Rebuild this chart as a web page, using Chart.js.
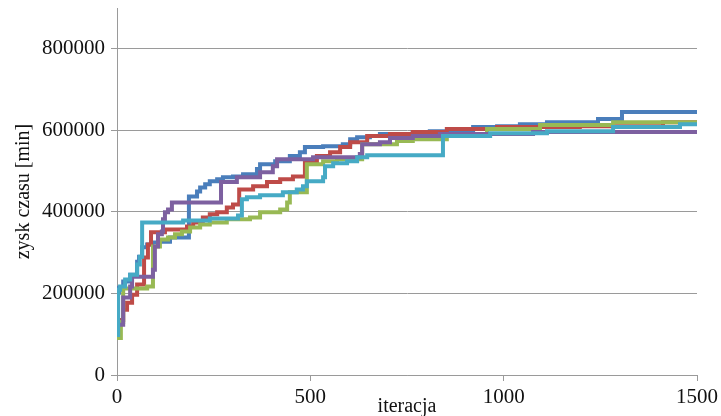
<!DOCTYPE html>
<html>
<head>
<meta charset="utf-8">
<script src="https://cdn.jsdelivr.net/npm/chart.js@4"></script>
<style>
  body { margin: 0; background: #fff; }
  canvas { display: block; }
</style>
</head>
<body>
<canvas id="chart" width="721" height="416"></canvas>
<script>
const xTicks = [0, 500, 1000, 1500];
const yTicks = [0, 200000, 400000, 600000, 800000];

const blueIter = [0, 5, 16, 34, 52, 57, 65, 78, 91, 106, 137, 186, 207, 215, 228, 240, 259, 274, 300, 326, 362, 370, 409, 447, 473, 486, 533, 584, 603, 621, 654, 680, 765, 809, 921, 983, 1042, 1112, 1244, 1306, 1500];
const blueValue = [202000, 214000, 229000, 246000, 278000, 290000, 313000, 320000, 325000, 327000, 337000, 438000, 450000, 460000, 468000, 475000, 480000, 485000, 487000, 492000, 505000, 517000, 524000, 537000, 546000, 559000, 561000, 566000, 578000, 583000, 586000, 591000, 596000, 598000, 608000, 610000, 615000, 620000, 628000, 645000, 645000];

const redIter = [0, 5, 16, 26, 39, 52, 70, 80, 88, 124, 181, 197, 222, 240, 259, 284, 300, 316, 352, 388, 422, 455, 486, 517, 551, 577, 603, 647, 706, 765, 853, 983, 1197, 1412, 1500];
const redValue = [106000, 135000, 160000, 177000, 197000, 222000, 288000, 320000, 350000, 357000, 364000, 374000, 386000, 394000, 399000, 411000, 418000, 455000, 463000, 473000, 480000, 487000, 522000, 537000, 546000, 559000, 571000, 586000, 591000, 596000, 603000, 608000, 610000, 620000, 623000];

const greenIter = [0, 10, 16, 78, 93, 111, 132, 150, 168, 189, 215, 240, 284, 344, 370, 422, 440, 447, 491, 533, 569, 634, 724, 765, 853, 957, 1094, 1283, 1500];
const greenValue = [91000, 130000, 212000, 217000, 315000, 332000, 337000, 345000, 352000, 362000, 369000, 374000, 382000, 386000, 399000, 406000, 423000, 448000, 517000, 524000, 529000, 566000, 574000, 578000, 591000, 603000, 613000, 620000, 623000];

const purpleIter = [0, 16, 34, 39, 93, 98, 106, 116, 119, 124, 132, 142, 269, 310, 370, 403, 414, 507, 628, 634, 680, 706, 765, 835, 1076, 1500];
const purpleValue = [123000, 190000, 217000, 241000, 258000, 315000, 345000, 352000, 382000, 399000, 406000, 423000, 473000, 485000, 497000, 512000, 529000, 534000, 542000, 566000, 571000, 581000, 586000, 591000, 596000, 596000];

const cyanIter = [0, 3, 8, 21, 34, 52, 59, 65, 171, 240, 313, 323, 336, 370, 429, 465, 481, 491, 533, 538, 559, 595, 621, 647, 843, 965, 1112, 1283, 1456, 1500];
const cyanValue = [98000, 209000, 217000, 234000, 246000, 271000, 290000, 374000, 379000, 384000, 391000, 431000, 436000, 441000, 448000, 455000, 463000, 475000, 485000, 512000, 519000, 524000, 534000, 539000, 586000, 593000, 598000, 608000, 615000, 620000];

const series = [
  { iter: blueIter, value: blueValue, color: '#4A7EBB', order: 5 },
  { iter: redIter, value: redValue, color: '#BE4B48', order: 4 },
  { iter: greenIter, value: greenValue, color: '#98B954', order: 3 },
  { iter: purpleIter, value: purpleValue, color: '#7D60A0', order: 2 },
  { iter: cyanIter, value: cyanValue, color: '#46AAC5', order: 1 },
];

const family = "'Liberation Serif', 'Times New Roman', serif";
const tickFont = { family: family, size: 21 };
const titleFont = { family: family, size: 20, lineHeight: 1 };
const gridColor = '#9a9a9a';
const textColor = '#111';

new Chart(document.getElementById('chart'), {
  type: 'line',
  data: {
    datasets: series.map((s) => ({
      data: s.iter.map((x, i) => ({ x: x, y: s.value[i] })),
      borderColor: s.color,
      borderWidth: 4,
      stepped: 'before',
      pointRadius: 0,
      fill: false,
      order: s.order,
    })),
  },
  options: {
    responsive: false,
    animation: false,
    layout: { padding: { top: 8, right: 24, bottom: 0, left: 0 } },
    plugins: { legend: { display: false }, tooltip: { enabled: false } },
    scales: {
      x: {
        type: 'linear',
        min: 0,
        max: 1500,
        afterBuildTicks: (scale) => { scale.ticks = xTicks.map((v) => ({ value: v })); },
        afterFit: (scale) => {
          scale.height = 41;
          scale.paddingLeft = 0;
          scale.paddingRight = 0;
        },
        grid: { drawOnChartArea: false, color: gridColor, tickLength: 6 },
        border: { color: gridColor },
        ticks: { color: textColor, font: tickFont, padding: 4, maxRotation: 0, callback: (v) => String(v) },
        title: { display: true, text: 'iteracja', color: textColor, font: titleFont, padding: { top: 0, bottom: -1 } },
      },
      y: {
        min: 0,
        max: 900000,
        afterBuildTicks: (scale) => { scale.ticks = yTicks.map((v) => ({ value: v })); },
        afterFit: (scale) => {
          scale.width = 117;
          scale.paddingTop = 0;
          scale.paddingBottom = 0;
        },
        grid: { color: gridColor, tickLength: 6 },
        border: { color: gridColor },
        ticks: { color: textColor, font: tickFont, padding: 6, callback: (v) => String(v) },
        title: { display: true, text: 'zysk czasu [min]', color: textColor, font: titleFont, padding: { top: 14, bottom: 0 } },
      },
    },
  },
});
</script>
</body>
</html>
